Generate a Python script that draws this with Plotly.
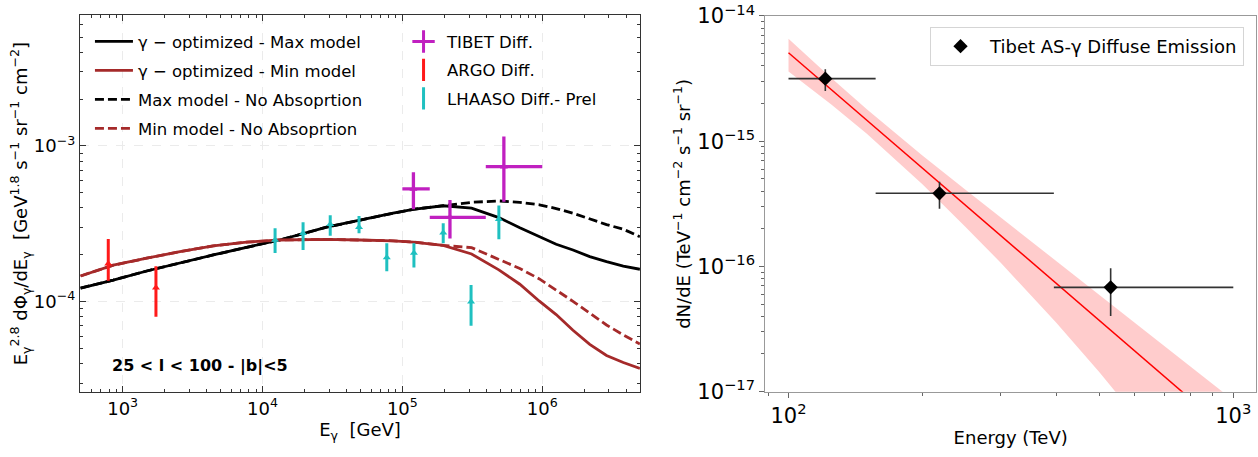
import plotly.graph_objects as go

# ---------------- Left panel (E in GeV, E^2.8 dPhi/dE) ----------------
E_model = [500, 857, 1486, 2570, 4446, 7691, 13300, 28710, 49660, 85900, 119400,
           195900, 312600, 489800, 691800, 955000, 1259000, 1660000, 2188000,
           2884000, 3802000, 5000000]
max_model = [1.222e-4, 1.377e-4, 1.574e-4, 1.778e-4, 1.995e-4, 2.234e-4, 2.489e-4,
             3.006e-4, 3.350e-4, 3.698e-4, 3.917e-4, 4.130e-4, 3.981e-4, 3.467e-4,
             2.985e-4, 2.612e-4, 2.339e-4, 2.148e-4, 1.945e-4, 1.807e-4, 1.694e-4,
             1.614e-4]
min_model = [1.462e-4, 1.714e-4, 1.901e-4, 2.094e-4, 2.280e-4, 2.410e-4, 2.489e-4,
             2.512e-4, 2.489e-4, 2.460e-4, 2.415e-4, 2.296e-4, 2.023e-4, 1.600e-4,
             1.294e-4, 1.007e-4, 8.26e-5, 6.55e-5, 5.32e-5, 4.51e-5, 4.07e-5, 3.73e-5]
max_noabs = [1.222e-4, 1.377e-4, 1.574e-4, 1.778e-4, 1.995e-4, 2.234e-4, 2.489e-4,
             3.006e-4, 3.350e-4, 3.698e-4, 3.917e-4, 4.130e-4, 4.345e-4, 4.436e-4,
             4.345e-4, 4.188e-4, 3.963e-4, 3.698e-4, 3.404e-4, 3.126e-4, 2.917e-4,
             2.612e-4]
min_noabs = [1.462e-4, 1.714e-4, 1.901e-4, 2.094e-4, 2.280e-4, 2.410e-4, 2.489e-4,
             2.512e-4, 2.489e-4, 2.460e-4, 2.415e-4, 2.296e-4, 2.223e-4, 1.866e-4,
             1.633e-4, 1.400e-4, 1.194e-4, 1.005e-4, 8.45e-5, 7.08e-5, 6.12e-5,
             5.35e-5]

argo_E = [789, 1730]
argo_y = [1.75e-4, 1.23e-4]
argo_hi = [2.53e-4, 1.69e-4]
argo_lo = [1.36e-4, 8.0e-5]

lhaaso_E = [12300, 19500, 30500, 49000, 77400, 121000, 196000, 310000, 490000]
lhaaso_y = [2.49e-4, 2.75e-4, 3.14e-4, 3.00e-4, 1.92e-4, 2.05e-4, 2.77e-4, 1.00e-4, 3.38e-4]
lhaaso_hi = [2.96e-4, 3.23e-4, 3.59e-4, 3.55e-4, 2.37e-4, 2.37e-4, 3.19e-4, 1.28e-4, 4.14e-4]
lhaaso_lo = [2.05e-4, 2.15e-4, 2.65e-4, 2.75e-4, 1.57e-4, 1.66e-4, 2.37e-4, 7.0e-5, 2.52e-4]

tibet_E = [120000, 219000, 532000]
tibet_Elo = [100000, 157000, 395000]
tibet_Ehi = [157000, 395000, 1000000]
tibet_y = [5.30e-4, 3.48e-4, 7.36e-4]
tibet_hi = [6.78e-4, 4.50e-4, 1.15e-3]
tibet_lo = [3.92e-4, 2.54e-4, 4.38e-4]

# ---------------- Right panel (E in TeV) ----------------
r_E = [121, 218.5, 530]
r_Elo = [100, 157, 395]
r_Ehi = [157, 395, 1000]
r_flux = [3.16e-15, 3.84e-16, 6.81e-17]
r_hi = [3.75e-15, 4.75e-16, 9.66e-17]
r_lo = [2.52e-15, 2.89e-16, 4.02e-17]

fit_E = [100, 1000]
fit_flux = [5.09e-15, 4.44e-18]
band_E = [100, 125, 150, 200, 250, 300, 400, 500, 600, 700, 800, 1000]
band_hi = [6.58e-15, 3.18e-15, 1.80e-15, 7.69e-16, 4.10e-16, 2.47e-16, 1.11e-16,
           5.97e-17, 3.59e-17, 2.33e-17, 1.60e-17, 8.55e-18]
band_lo = [3.60e-15, 1.96e-15, 1.15e-15, 4.53e-16, 2.07e-16, 1.07e-16, 3.55e-17,
           1.43e-17, 6.5e-18, 3.1e-18, 1.5e-18, 3.2e-19]

BROWN = "#A52A2A"
CYAN = "#1FC0C0"
MAG = "#C020C0"
RED = "#FF1A1A"
FONT = "DejaVu Sans"

fig = go.Figure()

# model lines (dashed first so solid sits on top)
fig.add_trace(go.Scatter(x=E_model, y=max_noabs, mode="lines", name="Max model - No Absoprtion",
                         line=dict(color="black", width=2.8, dash="9px,4px"),
                         legend="legend", legendgroup="g3", legendrank=3))
fig.add_trace(go.Scatter(x=E_model, y=min_noabs, mode="lines", name="Min model - No Absoprtion",
                         line=dict(color=BROWN, width=2.8, dash="9px,4px"),
                         legend="legend", legendgroup="g4", legendrank=4))
fig.add_trace(go.Scatter(x=E_model, y=max_model, mode="lines", name="γ − optimized - Max model",
                         line=dict(color="black", width=2.8),
                         legend="legend", legendgroup="g1", legendrank=1))
fig.add_trace(go.Scatter(x=E_model, y=min_model, mode="lines", name="γ − optimized - Min model",
                         line=dict(color=BROWN, width=2.8),
                         legend="legend", legendgroup="g2", legendrank=2))

def err(y, hi, lo):
    return [h - v for v, h in zip(y, hi)], [v - l for v, l in zip(y, lo)]

# ARGO
ep, em = err(argo_y, argo_hi, argo_lo)
fig.add_trace(go.Scatter(x=argo_E, y=argo_y, mode="markers", showlegend=False,
                         marker=dict(symbol="triangle-up", size=7, color=RED),
                         error_y=dict(type="data", symmetric=False, array=ep, arrayminus=em,
                                      color=RED, thickness=3, width=0)))
# LHAASO
ep, em = err(lhaaso_y, lhaaso_hi, lhaaso_lo)
fig.add_trace(go.Scatter(x=lhaaso_E, y=lhaaso_y, mode="markers", showlegend=False,
                         marker=dict(symbol="triangle-up", size=7, color=CYAN),
                         error_y=dict(type="data", symmetric=False, array=ep, arrayminus=em,
                                      color=CYAN, thickness=3, width=0)))
# TIBET
ep, em = err(tibet_y, tibet_hi, tibet_lo)
fig.add_trace(go.Scatter(x=tibet_E, y=tibet_y, mode="markers", showlegend=False,
                         marker=dict(symbol="triangle-up", size=7, color=MAG),
                         error_y=dict(type="data", symmetric=False, array=ep, arrayminus=em,
                                      color=MAG, thickness=3.3, width=0),
                         error_x=dict(type="data", symmetric=False,
                                      array=[h - e for e, h in zip(tibet_E, tibet_Ehi)],
                                      arrayminus=[e - l for e, l in zip(tibet_E, tibet_Elo)],
                                      color=MAG, thickness=3.3, width=0)))

# legend-only entries for the data sets (second column)
for nm, sym, col, rk in [("TIBET Diff.", "cross-thin", MAG, 5),
                         ("ARGO Diff.", "line-ns", RED, 6),
                         ("LHAASO Diff.- Prel", "line-ns", CYAN, 7)]:
    fig.add_trace(go.Scatter(x=[None], y=[None], mode="markers", name=nm,
                             marker=dict(symbol=sym, size=18, color=col,
                                         line=dict(color=col, width=3)),
                             legend="legend2", legendgroup="d" + str(rk), legendrank=rk))

# ---------------- Right panel traces ----------------
fig.add_trace(go.Scatter(x=band_E, y=band_hi, mode="lines", line=dict(width=0, color="rgba(0,0,0,0)"),
                         showlegend=False, hoverinfo="skip", xaxis="x2", yaxis="y2"))
fig.add_trace(go.Scatter(x=band_E, y=band_lo, mode="lines", line=dict(width=0, color="rgba(0,0,0,0)"),
                         fill="tonexty", fillcolor="rgba(255,0,0,0.2)",
                         showlegend=False, hoverinfo="skip", xaxis="x2", yaxis="y2"))
fig.add_trace(go.Scatter(x=fit_E, y=fit_flux, mode="lines", line=dict(color="red", width=1.5),
                         showlegend=False, xaxis="x2", yaxis="y2"))
ep, em = err(r_flux, r_hi, r_lo)
fig.add_trace(go.Scatter(x=r_E, y=r_flux, mode="markers", name="Tibet AS-γ Diffuse Emission",
                         marker=dict(symbol="diamond", size=11, color="black"),
                         error_y=dict(type="data", symmetric=False, array=ep, arrayminus=em,
                                      color="#333333", thickness=1.6, width=0),
                         error_x=dict(type="data", symmetric=False,
                                      array=[h - e for e, h in zip(r_E, r_Ehi)],
                                      arrayminus=[e - l for e, l in zip(r_E, r_Elo)],
                                      color="#333333", thickness=1.6, width=0),
                         xaxis="x2", yaxis="y2", legend="legend3"))

# ---------------- Layout ----------------
left_minor_x = [m * 10 ** k for k in range(2, 7) for m in range(2, 10)]
left_minor_y = [m * 10.0 ** k for k in range(-5, -1) for m in range(2, 10)]
right_minor_x = [m * 10 ** k for k in range(1, 4) for m in range(2, 10)]
right_minor_y = [m * 10.0 ** k for k in range(-18, -13) for m in range(2, 10)]

axis_left = dict(type="log", showline=True, linecolor="#333333", linewidth=1.2, mirror="allticks",
                 ticks="inside", ticklen=6, tickwidth=1, tickcolor="#333333",
                 showgrid=True, gridcolor="#ebebeb", griddash="dash", gridwidth=1,
                 zeroline=False, automargin=False,
                 tickfont=dict(size=18, color="black", family=FONT))

fig.update_layout(
    width=1258, height=457, margin=dict(l=0, r=0, t=0, b=0, autoexpand=False),
    paper_bgcolor="white", plot_bgcolor="white",
    font=dict(family=FONT, color="black"),
    xaxis=dict(axis_left, domain=[0.0636, 0.5087], anchor="y", range=[2.695, 6.699],
               tickmode="array", tickvals=[1e3, 1e4, 1e5, 1e6],
               ticktext=["10<sup>3</sup>", "10<sup>4</sup>", "10<sup>5</sup>", "10<sup>6</sup>"],
               minor=dict(tickmode="array", tickvals=left_minor_x, ticks="inside", ticklen=3,
                          tickcolor="#333333", showgrid=False),
               title=dict(text="E<sub>γ</sub>  [GeV]", font=dict(size=18), standoff=0)),
    yaxis=dict(axis_left, domain=[0.1416, 0.9672], anchor="x", range=[-4.582, -2.159],
               tickmode="array", tickvals=[1e-4, 1e-3],
               ticktext=["10<sup>−4</sup>", "10<sup>−3</sup>"],
               minor=dict(tickmode="array", tickvals=left_minor_y, ticks="inside", ticklen=3,
                          tickcolor="#333333", showgrid=False),
               title=dict(text="E<sub>γ</sub><sup>2.8</sup> dΦ<sub>γ</sub>/dE<sub>γ</sub>  [GeV<sup>1.8</sup> s<sup>−1</sup> sr<sup>−1</sup> cm<sup>−2</sup>]",
                          font=dict(size=18), standoff=1)),
    xaxis2=dict(type="log", domain=[0.6084, 0.9984], anchor="y2", range=[1.948, 3.051],
                showline=True, linecolor="#999999", linewidth=1.2, mirror=True,
                ticks="outside", ticklen=5, tickcolor="#666666", showgrid=False, zeroline=False,
                automargin=False,
                tickmode="array", tickvals=[100, 1000], ticktext=["10<sup>2</sup>", "10<sup>3</sup>"],
                tickfont=dict(size=21, color="black", family=FONT),
                minor=dict(tickmode="array", tickvals=right_minor_x, ticks="outside", ticklen=3,
                           tickcolor="#666666", showgrid=False),
                title=dict(text="Energy (TeV)", font=dict(size=18), standoff=4)),
    yaxis2=dict(type="log", domain=[0.1429, 0.9650], anchor="x2", range=[-17, -14],
                showline=True, linecolor="#999999", linewidth=1.2, mirror=True,
                ticks="outside", ticklen=5, tickcolor="#666666", showgrid=False, zeroline=False,
                automargin=False,
                tickmode="array", tickvals=[1e-17, 1e-16, 1e-15, 1e-14],
                ticktext=["10<sup>−17</sup>", "10<sup>−16</sup>", "10<sup>−15</sup>", "10<sup>−14</sup>"],
                tickfont=dict(size=21, color="black", family=FONT),
                minor=dict(tickmode="array", tickvals=right_minor_y, ticks="outside", ticklen=3,
                           tickcolor="#666666", showgrid=False),
                title=dict(text="dN/dE (TeV<sup>−1</sup> cm<sup>−2</sup> s<sup>−1</sup> sr<sup>−1</sup>)",
                           font=dict(size=18), standoff=2)),
    legend=dict(x=0.0715, y=0.947, xanchor="left", yanchor="top", bgcolor="rgba(0,0,0,0)",
                borderwidth=0, font=dict(size=16.5, family=FONT), tracegroupgap=4.5,
                traceorder="grouped", itemwidth=38),
    legend2=dict(x=0.318, y=0.947, xanchor="left", yanchor="top", bgcolor="rgba(0,0,0,0)",
                 borderwidth=0, font=dict(size=16.5, family=FONT), tracegroupgap=4,
                 traceorder="grouped", itemwidth=37),
    legend3=dict(x=0.7393, y=0.941, xanchor="left", yanchor="top", bgcolor="white",
                 bordercolor="#d5d5d5", borderwidth=1, font=dict(size=18, family=FONT),
                 itemwidth=49),
    annotations=[dict(text="<b>25 &lt; l &lt; 100 - |b|&lt;5</b>", x=0.159, y=0.199,
                      xref="paper", yref="paper", xanchor="center", yanchor="middle",
                      showarrow=False, font=dict(size=16, family=FONT, color="black"))],
)

fig.write_html("out.html")
